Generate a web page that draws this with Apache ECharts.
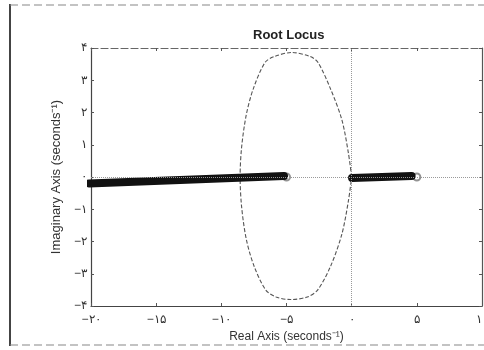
<!DOCTYPE html>
<html>
<head>
<meta charset="utf-8">
<script src="https://cdn.jsdelivr.net/npm/echarts@6/dist/echarts.min.js"></script>
<style>
  html, body { margin: 0; padding: 0; background: #fff; }
  #chart { width: 484px; height: 350px; }
</style>
</head>
<body>
<div id="chart"></div>
<script>
// Axis ticks and their Persian-digit labels
const xTicks = [-20, -15, -10, -5, 0, 5, 10];
const xTickLabels = ['−۲۰', '−۱۵', '−۱۰', '−۵', '۰', '۵', '۱۰'];
const yTicks = [-4, -3, -2, -1, 0, 1, 2, 3, 4];
const yTickLabels = ['−۴', '−۳', '−۲', '−۱', '۰', '۱', '۲', '۳', '۴'];

// Complex branch of the locus: a closed loop leaving the real axis at the origin
const locusRe = [0, -0.25, -0.75, -1.60, -2.58, -3.20, -4.60, -5.90, -6.65, -7.57, -8.10, -8.45, -8.56,
                 -8.45, -8.10, -7.50, -6.60, -5.80, -4.70, -3.40, -2.60, -1.60, -0.75, -0.25, 0];
const locusIm = [0, 0.74, 1.77, 2.71, 3.55, 3.74, 3.86, 3.74, 3.55, 2.71, 1.90, 0.90, 0,
                 -0.90, -1.90, -2.75, -3.50, -3.72, -3.80, -3.72, -3.50, -2.75, -1.77, -0.74, 0];

// Real-axis segments of the locus (heavy strokes)
const segmentA_Re = [-20.15, -5.19];
const segmentA_Im = [-0.20, 0.03];
const segmentB_Re = [0.03, 4.60];
const segmentB_Im = [-0.03, 0.03];

// Open-loop zeros
const zerosRe = [-5, 5];
const zerosIm = [0, 0];

const pairs = (xs, ys) => xs.map((x, i) => [x, ys[i]]);
const xLabel = v => { const i = xTicks.indexOf(v); return i < 0 ? '' : xTickLabels[i]; };
const yLabel = v => { const i = yTicks.indexOf(Math.round(v * 1000) / 1000); return i < 0 ? '' : yTickLabels[i]; };

const FONT = '"Liberation Sans", Arial, sans-serif';
const axisCommon = {
  type: 'value',
  splitLine: { show: false },
  axisTick: { show: true, inside: true, length: 3, lineStyle: { color: '#555' } }
};

const chart = echarts.init(document.getElementById('chart'), null, { renderer: 'canvas' });
chart.setOption({
  animation: false,
  backgroundColor: '#fff',
  title: {
    text: 'Root Locus',
    left: 248, top: 24,
    textStyle: { fontFamily: FONT, fontSize: 13, fontWeight: 'bold', color: '#222' }
  },
  grid: { left: 91, right: 2, top: 48, bottom: 44, outerBoundsMode: 'none', containLabel: false },
  xAxis: [
    Object.assign({}, axisCommon, {
      position: 'bottom', min: -20, max: 10, interval: 5,
      axisLine: { onZero: false, lineStyle: { color: '#444', width: 1.2 } },
      axisLabel: { formatter: xLabel, margin: 8, fontFamily: FONT, fontSize: 12, color: '#333' },
      name: 'Real Axis (seconds⁻¹)', nameLocation: 'middle', nameGap: 25,
      nameTextStyle: { fontFamily: FONT, fontSize: 12, color: '#333' }
    }),
    Object.assign({}, axisCommon, {
      position: 'top', min: -20, max: 10, interval: 5,
      axisLine: { onZero: false, lineStyle: { color: '#666', width: 1.2, type: [7, 3] } },
      axisLabel: { show: false }
    })
  ],
  yAxis: [
    Object.assign({}, axisCommon, {
      position: 'left', min: -4, max: 4, interval: 1,
      axisLine: { onZero: false, lineStyle: { color: '#444', width: 1.2 } },
      axisLabel: { formatter: yLabel, margin: 4, fontFamily: FONT, fontSize: 12, color: '#333' },
      name: 'Imaginary Axis (seconds⁻¹)', nameLocation: 'middle', nameGap: 21,
      nameTextStyle: { fontFamily: FONT, fontSize: 13, color: '#333' }
    }),
    Object.assign({}, axisCommon, {
      position: 'right', min: -4, max: 4, interval: 1,
      axisLine: { onZero: false, lineStyle: { color: '#555', width: 1.2 } },
      axisLabel: { show: false }
    })
  ],
  graphic: [
    { type: 'line', shape: { x1: 10, y1: 4, x2: 10, y2: 346 }, style: { stroke: '#444', lineWidth: 2 } },
    { type: 'line', shape: { x1: 10, y1: 5, x2: 484, y2: 5 }, style: { stroke: '#888', lineWidth: 1.2, lineDash: [8, 4] } },
    { type: 'line', shape: { x1: 10, y1: 345, x2: 484, y2: 345 }, style: { stroke: '#888', lineWidth: 1.2, lineDash: [8, 4] } }
  ],
  series: [
    {
      // dotted real and imaginary axes
      type: 'line', data: [], silent: true,
      markLine: {
        silent: true, symbol: 'none', label: { show: false },
        lineStyle: { type: 'dotted', color: '#999', width: 1 },
        data: [{ xAxis: 0 }, { yAxis: 0 }]
      }
    },
    {
      type: 'line', data: pairs(locusRe, locusIm), smooth: 0.3, symbol: 'none', clip: false,
      lineStyle: { color: '#555', width: 1.1, type: [4, 2] }
    },
    {
      type: 'scatter', data: pairs(zerosRe, zerosIm), symbol: 'emptyCircle', symbolSize: 7,
      itemStyle: { color: '#777', borderWidth: 1.2 }
    },
    {
      type: 'line', data: pairs(segmentA_Re, segmentA_Im), symbol: 'none', clip: false,
      lineStyle: { color: '#111', width: 8, cap: 'round' }
    },
    {
      type: 'line', data: pairs(segmentB_Re, segmentB_Im), symbol: 'none', clip: false,
      lineStyle: { color: '#111', width: 8, cap: 'round' }
    }
  ]
});
</script>
</body>
</html>
